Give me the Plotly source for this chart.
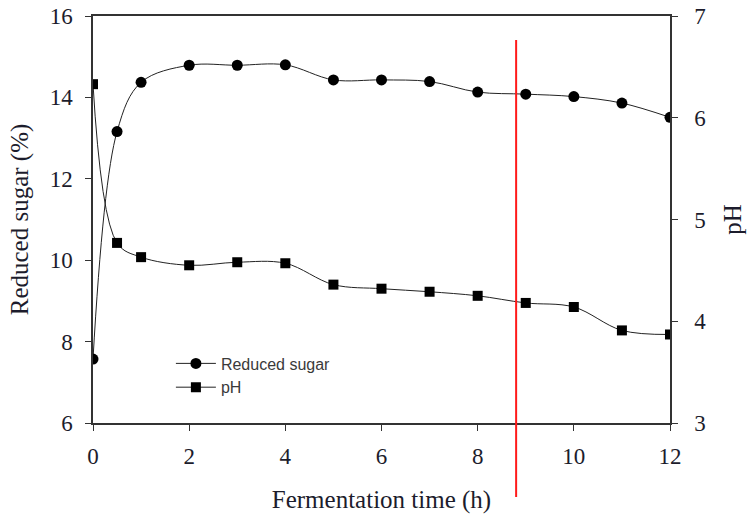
import plotly.graph_objects as go

time_h = [0, 0.5, 1, 2, 3, 4, 5, 6, 7, 8, 9, 10, 11, 12]
reduced_sugar = [7.57, 13.16, 14.37, 14.79, 14.79, 14.80, 14.43, 14.43, 14.39, 14.13, 14.08, 14.02, 13.86, 13.51]
ph_values = [6.33, 4.77, 4.63, 4.55, 4.58, 4.57, 4.36, 4.32, 4.29, 4.25, 4.18, 4.14, 3.91, 3.87]
x_ticks = [0, 2, 4, 6, 8, 10, 12]
y_left_ticks = [6, 8, 10, 12, 14, 16]
y_right_ticks = [3, 4, 5, 6, 7]
marker_time = 8.8

serif = "Liberation Serif, Times New Roman, serif"
tick_color = "#1c1c2c"

fig = go.Figure()
fig.add_trace(go.Scatter(
    x=time_h, y=reduced_sugar, name="Reduced sugar", mode="lines+markers",
    line=dict(color="#222222", width=1, shape="spline", smoothing=1),
    marker=dict(symbol="circle", size=11, color="black"),
))
fig.add_trace(go.Scatter(
    x=time_h, y=ph_values, name="pH", mode="lines+markers", yaxis="y2",
    line=dict(color="#222222", width=1, shape="spline", smoothing=1),
    marker=dict(symbol="square", size=10, color="black"),
))

fig.add_shape(type="line", xref="x", yref="paper", x0=marker_time, x1=marker_time,
              y0=-0.182, y1=0.941, line=dict(color="#ff1a1a", width=2))

fig.update_layout(
    width=747, height=514,
    margin=dict(l=93, r=77, t=16, b=91),
    paper_bgcolor="white", plot_bgcolor="white",
    showlegend=True,
    legend=dict(x=0.135, y=0.188, xanchor="left", yanchor="top",
                bgcolor="rgba(0,0,0,0)", font=dict(family="Liberation Sans, Arial, sans-serif", size=16, color="#3a3a3a"),
                tracegroupgap=0, itemwidth=40),
    xaxis=dict(range=[0, 12], tickvals=x_ticks, showgrid=False, zeroline=False, automargin=False,
               showline=True, linecolor="#333333", linewidth=1.5, mirror=True,
               ticks="outside", ticklen=6, tickcolor="#333333",
               ticklabelstandoff=6,
               tickfont=dict(family=serif, size=23, color=tick_color),
               title=dict(text="Fermentation time (h)", font=dict(family=serif, size=25, color=tick_color), standoff=22)),
    yaxis=dict(range=[6, 16], tickvals=y_left_ticks, showgrid=False, zeroline=False, automargin=False,
               showline=True, linecolor="#333333", linewidth=1.5,
               ticks="outside", ticklen=6, tickcolor="#333333",
               ticklabelstandoff=8,
               tickfont=dict(family=serif, size=23, color=tick_color),
               title=dict(text="Reduced sugar (%)", font=dict(family=serif, size=25, color=tick_color), standoff=14)),
    yaxis2=dict(range=[3, 7], tickvals=y_right_ticks, overlaying="y", side="right",
                showgrid=False, zeroline=False, automargin=False,
                showline=True, linecolor="#333333", linewidth=1.5,
                ticks="outside", ticklen=6, tickcolor="#333333",
                ticklabelstandoff=12,
                tickfont=dict(family=serif, size=23, color=tick_color),
                title=dict(text="pH", font=dict(family=serif, size=25, color=tick_color), standoff=18)),
)

fig.write_html("out.html")
